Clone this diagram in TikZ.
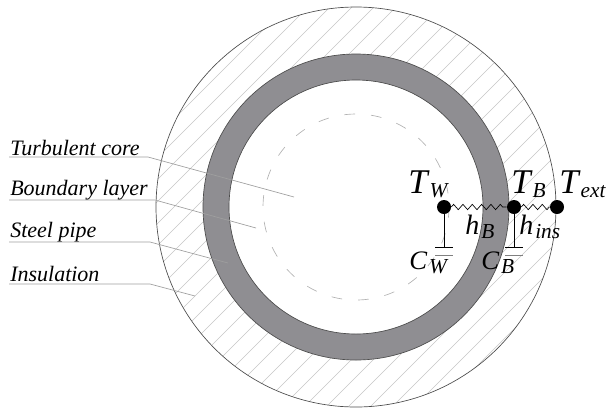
\documentclass[tikz,border=0pt]{standalone}
\usepackage{amsmath}
\usepackage{fontspec}
\setmainfont{Liberation Serif}
\usepackage{tikz}
\usetikzlibrary{decorations.pathmorphing}

\definecolor{pipegray}{HTML}{8F8E92}

% symbol with a subscript: size, letter, subscript
\newcommand{\symsub}[3]{{\fontsize{#1}{#1}\selectfont\itshape #2}\kern1.5pt{\fontsize{16}{16}\selectfont\itshape\raisebox{-3.5pt}{#3}}}

\tikzset{
	leader/.style={color=gray!75, line width=0.5pt},
	hatchline/.style={color=gray!45, line width=0.45pt},
	dot/.style={circle, fill=black, inner sep=0pt, minimum size=10.5pt},
	layerlabel/.style={anchor=base west, inner sep=0pt, font=\fontsize{16.5}{18}\selectfont\itshape},
	symlabel/.style={anchor=base west, inner sep=0pt},
	spring/.style={decorate, decoration={zigzag, segment length=7pt, amplitude=2pt}, line width=0.5pt},
	plate/.style={line width=0.5pt}
}

\begin{document}
\begin{tikzpicture}[>=latex, x=0.75pt, y=-0.75pt]
	\useasboundingbox (0,0) rectangle (616,412);

	% 1. Hatching of the insulation
	\begin{scope}[even odd rule]
		\clip (356,207) circle[radius=200] (356,207) circle[radius=153];
		\foreach \i in {-20,...,20} {
			\draw[hatchline] (350+\i*22-220,427) -- (350+\i*22+220,-13);
		}
	\end{scope}

	% 2. Pipe wall and circles
	\draw[fill=pipegray, even odd rule, line width=0.5pt, draw=black!70] (356,207) circle[radius=153] (356,207) circle[radius=127];
	\draw[line width=0.5pt, draw=black!70] (356,207) circle[radius=200];
	\draw[gray!60, line width=0.5pt, dash pattern=on 8pt off 12pt] (356,207) circle[radius=93];

	% 3. Layer labels with their leaders
	\node[layerlabel] (core) at (10,155) {Turbulent core};
	\node[layerlabel] (layer) at (10,195) {Boundary layer};
	\node[layerlabel] (steel) at (10,237) {Steel pipe};
	\node[layerlabel] (insul) at (10,281) {Insulation};

	\coordinate (corestart) at (9,157);
	\coordinate (corebend) at (148,157);
	\coordinate (coreend) at (294,197);
	\coordinate (layerstart) at (9,200);
	\coordinate (layerbend) at (155,200);
	\coordinate (layerend) at (256,228);
	\coordinate (steelstart) at (9,242);
	\coordinate (steelbend) at (150,242);
	\coordinate (steelend) at (228,263);
	\coordinate (insulstart) at (9,284);
	\coordinate (insulbend) at (150,284);
	\coordinate (insulend) at (195,296);

	\draw[leader] (corestart) -- (corebend) -- (coreend);
	\draw[leader] (layerstart) -- (layerbend) -- (layerend);
	\draw[leader] (steelstart) -- (steelbend) -- (steelend);
	\draw[leader] (insulstart) -- (insulbend) -- (insulend);

	% 4. Thermal network
	\node[dot] (Tw) at (444,207) {};
	\node[dot] (TB) at (514,207) {};
	\node[dot] (Text) at (557,207) {};

	\draw[spring] (Tw) -- (TB);
	\draw[spring] (TB) -- (Text);

	\coordinate (Cwtop) at (444,247);
	\coordinate (Cwleft) at (435,247);
	\coordinate (Cwright) at (453,247);
	\coordinate (Cwlowleft) at (435,255);
	\coordinate (Cwlowright) at (453,255);
	\coordinate (CBtop) at (514,247);
	\coordinate (CBleft) at (505,247);
	\coordinate (CBright) at (523,247);
	\coordinate (CBlowleft) at (505,255);
	\coordinate (CBlowright) at (523,255);

	\draw[plate] (Tw) -- (Cwtop);
	\draw[plate] (Cwleft) -- (Cwright);
	\draw[plate, gray] (Cwlowleft) -- (Cwlowright);
	\draw[plate] (TB) -- (CBtop);
	\draw[plate] (CBleft) -- (CBright);
	\draw[plate, gray] (CBlowleft) -- (CBlowright);

	% 5. Symbols
	\node[symlabel] (lblTw) at (408,193) {\symsub{26}{T}{W}};
	\node[symlabel] (lblTB) at (511,193) {\symsub{26}{T}{B}};
	\node[symlabel] (lblText) at (559,193) {\symsub{26}{T}{ext}};
	\node[symlabel] (lblhB) at (465,234) {\symsub{21}{h}{B}};
	\node[symlabel] (lblhins) at (519,234) {\symsub{21}{h}{ins}};
	\node[symlabel] (lblCw) at (409,269) {\symsub{20}{C}{W}};
	\node[symlabel] (lblCB) at (481,269) {\symsub{20}{C}{B}};
\end{tikzpicture}
\end{document}
